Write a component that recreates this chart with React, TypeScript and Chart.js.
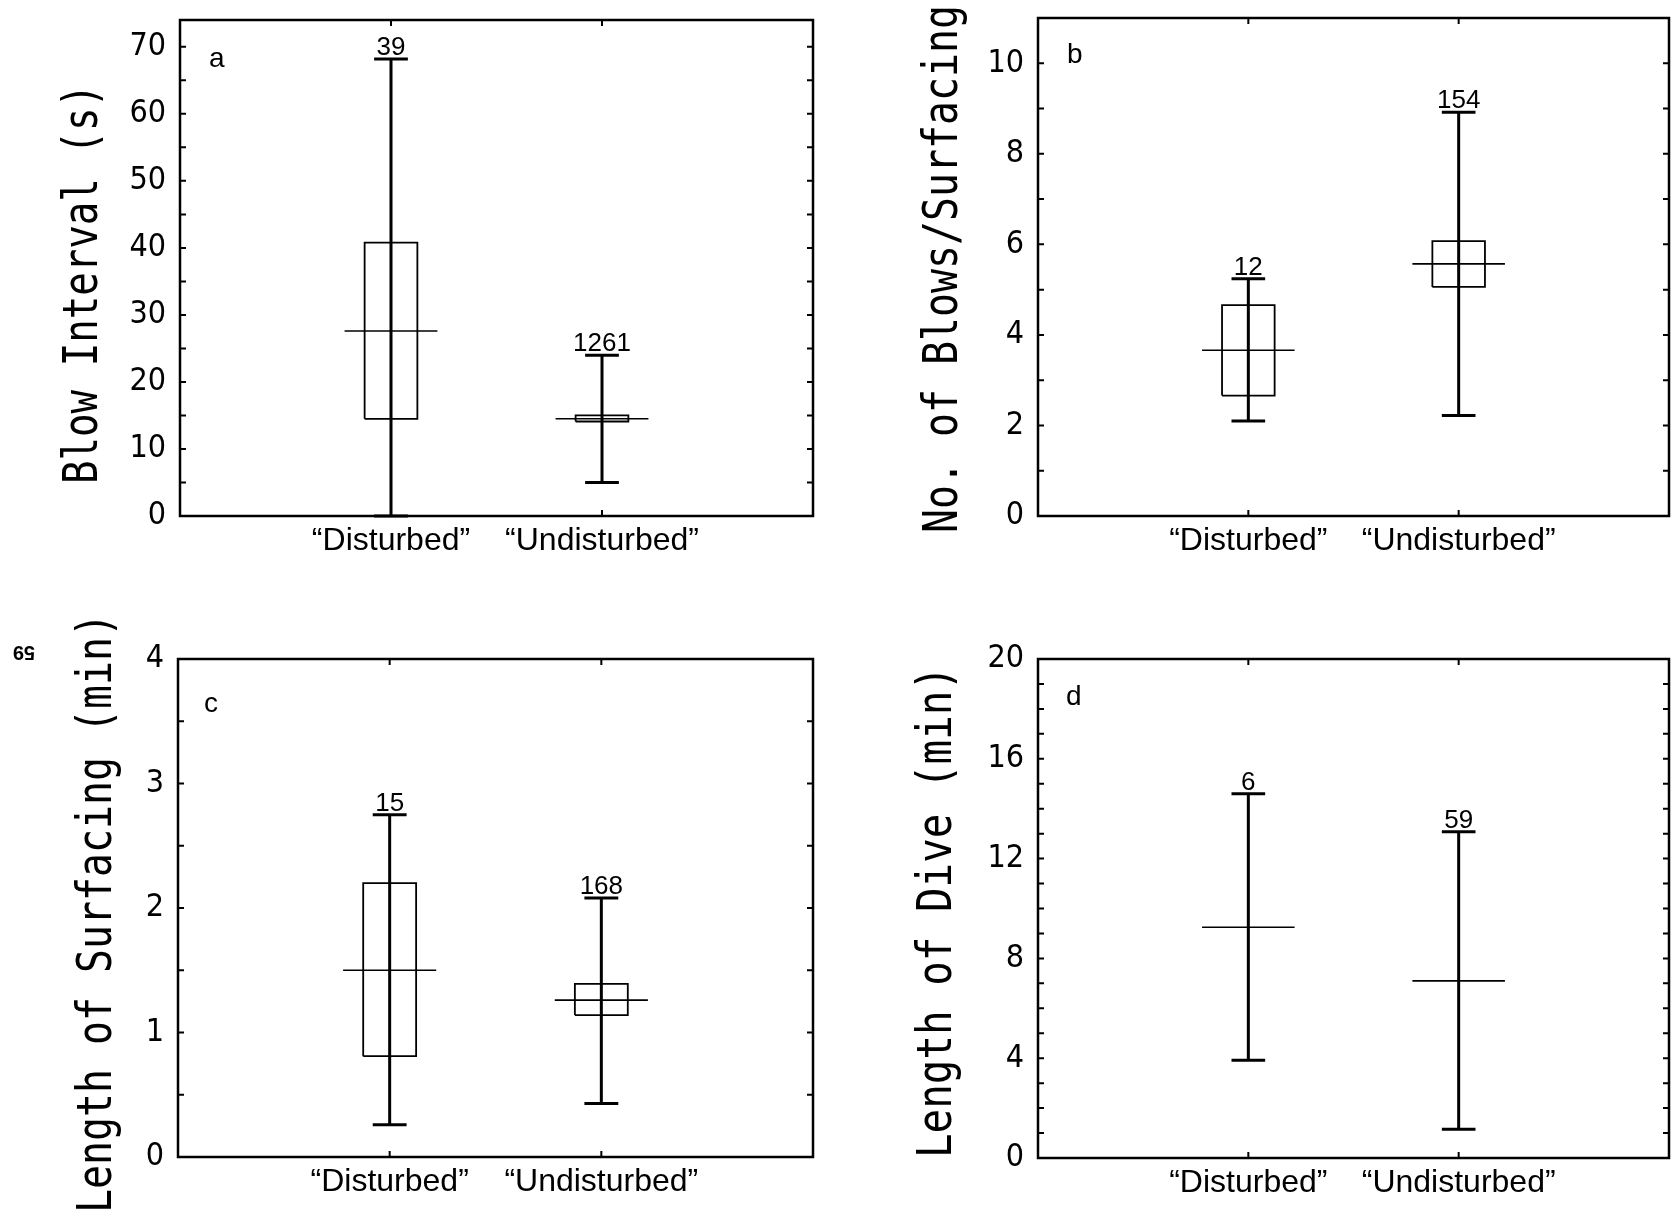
import React, { useEffect, useRef } from 'react';
import { Chart, registerables } from 'chart.js';

Chart.register(...registerables);

// ---------- DATA ----------
const categories = ['“Disturbed”', '“Undisturbed”'];

// (a) Blow interval (s)
const blowMin = [0, 5.0];
const blowQ1 = [14.5, 14.1];
const blowMedian = [27.6, 14.5];
const blowQ3 = [40.8, 15.0];
const blowMax = [68.2, 24.0];
const blowN = [39, 1261];
const blowTicks = [0, 10, 20, 30, 40, 50, 60, 70];

// (b) No. of blows / surfacing
const blowsMin = [2.1, 2.22];
const blowsQ1 = [2.66, 5.06];
const blowsMedian = [3.66, 5.57];
const blowsQ3 = [4.66, 6.07];
const blowsMax = [5.24, 8.92];
const blowsN = [12, 154];
const blowsTicks = [0, 2, 4, 6, 8, 10];

// (c) Length of surfacing (min)
const surfMin = [0.26, 0.43];
const surfQ1 = [0.81, 1.14];
const surfMedian = [1.5, 1.26];
const surfQ3 = [2.2, 1.39];
const surfMax = [2.75, 2.08];
const surfN = [15, 168];
const surfTicks = [0, 1, 2, 3, 4];

// (d) Length of dive (min) — no boxes
const diveMin = [3.92, 1.15];
const diveQ1: (number | null)[] = [null, null];
const diveMedian = [9.25, 7.1];
const diveQ3: (number | null)[] = [null, null];
const diveMax = [14.6, 13.08];
const diveN = [6, 59];
const diveTicks = [0, 4, 8, 12, 16, 20];

// ---------- STYLE ----------
const CAP = 0.08;
const BOX = 0.125;
const MED = 0.22;
const TICK_FONT = '"Liberation Sans Narrow", "DejaVu Sans Condensed", sans-serif';
const SANS = '"Liberation Sans", Arial, sans-serif';
const MONO = '"DejaVu Sans Mono", monospace';

type Panel = {
  key: string;
  left: number; top: number; width: number; height: number;
  plot: { l: number; t: number; r: number; b: number };
  yMax: number; minorStep: number; ticks: number[];
  min: number[]; q1: (number | null)[]; median: number[]; q3: (number | null)[]; max: number[]; n: number[];
  title: string; titleX: number; titleY: number; titleLen: number;
  letter: string; letterX: number; letterY: number;
  pageNo?: boolean;
};

const panels: Panel[] = [
  {
    key: 'a', left: 0, top: 0, width: 835, height: 600,
    plot: { l: 180, t: 20, r: 813, b: 516 },
    yMax: 74, minorStep: 5, ticks: blowTicks,
    min: blowMin, q1: blowQ1, median: blowMedian, q3: blowQ3, max: blowMax, n: blowN,
    title: 'Blow Interval (s)', titleX: 97, titleY: 284, titleLen: 400,
    letter: 'a', letterX: 209, letterY: 67,
  },
  {
    key: 'b', left: 835, top: 0, width: 836, height: 600,
    plot: { l: 203, t: 18, r: 834, b: 516 },
    yMax: 11, minorStep: 1, ticks: blowsTicks,
    min: blowsMin, q1: blowsQ1, median: blowsMedian, q3: blowsQ3, max: blowsMax, n: blowsN,
    title: 'No. of Blows/Surfacing', titleX: 122, titleY: 269, titleLen: 528,
    letter: 'b', letterX: 232, letterY: 63,
  },
  {
    key: 'c', left: 0, top: 600, width: 835, height: 616,
    plot: { l: 178, t: 59, r: 813, b: 557 },
    yMax: 4, minorStep: 0.5, ticks: surfTicks,
    min: surfMin, q1: surfQ1, median: surfMedian, q3: surfQ3, max: surfMax, n: surfN,
    title: 'Length of Surfacing (min)', titleX: 111, titleY: 313, titleLen: 600,
    letter: 'c', letterX: 204, letterY: 112, pageNo: true,
  },
  {
    key: 'd', left: 835, top: 600, width: 836, height: 616,
    plot: { l: 203, t: 59, r: 834, b: 558 },
    yMax: 20, minorStep: 1, ticks: diveTicks,
    min: diveMin, q1: diveQ1, median: diveMedian, q3: diveQ3, max: diveMax, n: diveN,
    title: 'Length of Dive (min)', titleX: 116, titleY: 312, titleLen: 492,
    letter: 'd', letterX: 231, letterY: 105,
  },
];

function buildDatasets(p: Panel) {
  const ds: any[] = [];
  const add = (pts: { x: number; y: number }[], w: number) =>
    ds.push({
      data: pts, showLine: true, borderColor: '#000', backgroundColor: '#000',
      borderWidth: w, pointRadius: 0, fill: false, tension: 0, borderJoinStyle: 'miter',
      borderCapStyle: 'butt', clip: false,
    });
  categories.forEach((_, i) => {
    const x = i + 1;
    add([{ x, y: p.min[i] }, { x, y: p.max[i] }], 3);
    add([{ x: x - CAP, y: p.max[i] }, { x: x + CAP, y: p.max[i] }], 3);
    add([{ x: x - CAP, y: p.min[i] }, { x: x + CAP, y: p.min[i] }], 3);
    const lo = p.q1[i];
    const hi = p.q3[i];
    if (lo != null && hi != null) {
      add([
        { x: x - BOX, y: lo }, { x: x + BOX, y: lo }, { x: x + BOX, y: hi },
        { x: x - BOX, y: hi }, { x: x - BOX, y: lo },
      ], 1.8);
    }
    add([{ x: x - MED, y: p.median[i] }, { x: x + MED, y: p.median[i] }], 1.6);
  });
  return ds;
}

function decorPlugin(p: Panel) {
  return {
    id: 'decor' + p.key,
    afterDraw(chart: any) {
      const { ctx, chartArea: ca } = chart;
      const x = chart.scales.x;
      const y = chart.scales.y;
      ctx.save();
      ctx.strokeStyle = '#000';
      ctx.fillStyle = '#000';
      // frame
      ctx.lineWidth = 2.5;
      ctx.strokeRect(ca.left, ca.top, ca.right - ca.left, ca.bottom - ca.top);
      // inward ticks
      ctx.lineWidth = 2;
      const nMinor = Math.floor(p.yMax / p.minorStep + 1e-9);
      ctx.beginPath();
      for (let k = 0; k <= nMinor; k++) {
        const py = y.getPixelForValue(k * p.minorStep);
        ctx.moveTo(ca.left, py); ctx.lineTo(ca.left + 6, py);
        ctx.moveTo(ca.right - 6, py); ctx.lineTo(ca.right, py);
      }
      categories.forEach((_, i) => {
        const px = x.getPixelForValue(i + 1);
        ctx.moveTo(px, ca.top); ctx.lineTo(px, ca.top + 6);
        ctx.moveTo(px, ca.bottom - 6); ctx.lineTo(px, ca.bottom);
      });
      ctx.stroke();
      // sample sizes
      ctx.font = `26px ${SANS}`;
      ctx.textAlign = 'center';
      ctx.textBaseline = 'alphabetic';
      categories.forEach((_, i) => {
        const px = x.getPixelForValue(i + 1);
        const py = y.getPixelForValue(p.max[i]);
        ctx.fillText(String(p.n[i]), px, py - 4);
      });
      // panel letter
      ctx.font = `28px ${SANS}`;
      ctx.textAlign = 'left';
      ctx.fillText(p.letter, p.letterX, p.letterY);
      // axis title
      ctx.save();
      ctx.translate(p.titleX, p.titleY);
      ctx.rotate(-Math.PI / 2);
      ctx.font = `48px ${MONO}`;
      ctx.textAlign = 'center';
      ctx.textBaseline = 'alphabetic';
      ctx.fillText(p.title, 0, 0, p.titleLen);
      ctx.restore();
      if (p.pageNo) {
        ctx.save();
        ctx.translate(24, 52);
        ctx.rotate(Math.PI);
        ctx.font = `bold 20px ${SANS}`;
        ctx.textAlign = 'center';
        ctx.textBaseline = 'middle';
        ctx.fillText('59', 0, 0);
        ctx.restore();
      }
      ctx.restore();
    },
  };
}

function PanelChart({ p }: { p: Panel }) {
  const ref = useRef<HTMLCanvasElement | null>(null);
  useEffect(() => {
    if (!ref.current) return;
    const chart = new Chart(ref.current, {
      type: 'scatter',
      data: { datasets: buildDatasets(p) },
      options: {
        responsive: false,
        animation: false,
        devicePixelRatio: 1,
        events: [],
        layout: { padding: { left: 0, top: p.plot.t, right: p.width - p.plot.r, bottom: 0 } },
        plugins: { legend: { display: false }, tooltip: { enabled: false }, title: { display: false } },
        scales: {
          x: {
            type: 'linear', min: 0, max: 3,
            grid: { display: false, drawTicks: false },
            border: { display: false },
            afterBuildTicks: (s: any) => { s.ticks = categories.map((_, i) => ({ value: i + 1 })); },
            afterFit: (s: any) => {
              s.height = p.height - p.plot.b;
              s.paddingLeft = 0; s.paddingRight = 0;
            },
            ticks: {
              autoSkip: false, maxRotation: 0, minRotation: 0, padding: 6, color: '#000',
              font: { family: SANS, size: 32 },
              callback: (_v: any, idx: number) => categories[idx] ?? '',
            },
          },
          y: {
            type: 'linear', min: 0, max: p.yMax,
            grid: { display: false, drawTicks: false },
            border: { display: false },
            afterBuildTicks: (s: any) => { s.ticks = p.ticks.map((v) => ({ value: v })); },
            afterFit: (s: any) => {
              s.width = p.plot.l;
              s.paddingTop = 0; s.paddingBottom = 0;
            },
            ticks: {
              autoSkip: false, padding: 14, color: '#000',
              font: { family: TICK_FONT, size: 32 },
              callback: (v: any) => String(v),
            },
          },
        },
      } as any,
      plugins: [decorPlugin(p)],
    });
    return () => chart.destroy();
  }, [p]);
  return (
    <canvas
      ref={ref}
      width={p.width}
      height={p.height}
      style={{ position: 'absolute', left: p.left, top: p.top, width: p.width, height: p.height }}
    />
  );
}

export default function App() {
  useEffect(() => {
    document.body.style.margin = '0';
  }, []);
  return (
    <div style={{ position: 'absolute', left: 0, top: 0, width: 1671, height: 1216, background: '#fff', overflow: 'hidden' }}>
      {panels.map((p) => (
        <PanelChart key={p.key} p={p} />
      ))}
    </div>
  );
}
